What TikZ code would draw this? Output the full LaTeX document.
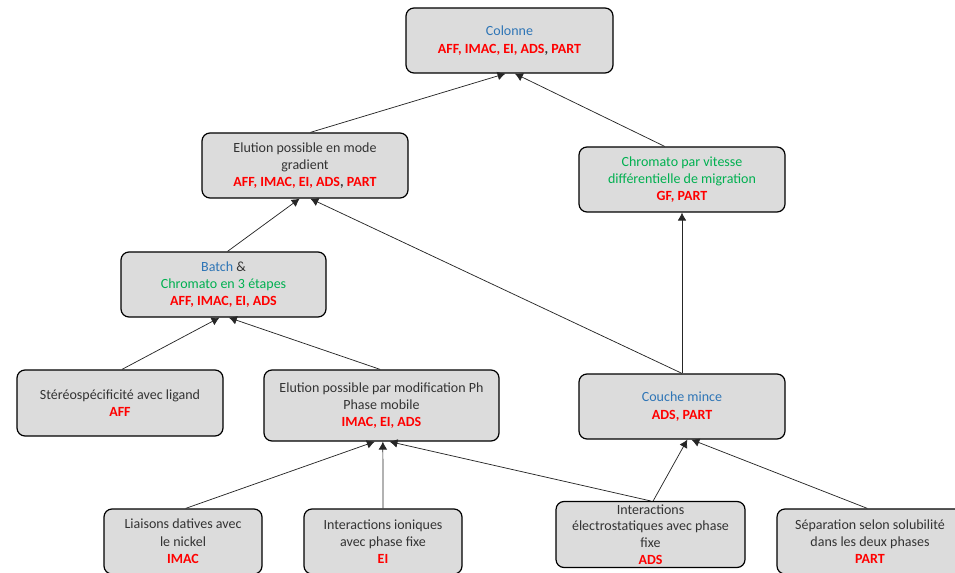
\documentclass[tikz,border=0pt]{standalone}
\usepackage{fontspec}
\setmainfont{Carlito}
\usetikzlibrary{arrows.meta}
\definecolor{bleu}{HTML}{2E75B6}
\definecolor{vert}{HTML}{00B050}
\definecolor{rouge}{HTML}{FF0000}
\definecolor{fond}{HTML}{DCDCDC}
\newcommand{\sig}[1]{\textcolor{rouge}{\bfseries #1}}
\begin{document}
\begin{tikzpicture}[x=0.75pt, y=-0.75pt, >={Latex[length=6pt,width=6.5pt]},
  box/.style={draw=black, line width=0.9pt, fill=fond, rounded corners=6pt,
    align=center, inner sep=2pt, text=black!80,
    font=\fontsize{10.5}{13}\selectfont},
  lien/.style={->, line width=0.55pt, draw=black!85}]
\useasboundingbox (0,0) rectangle (955,573);
\clip (0,0) rectangle (955,573);

% niveau haut
\node[box, minimum width=155.25pt, minimum height=48.75pt] (col) at (509.5,40.5)
  {\textcolor{bleu}{Colonne}\\ \sig{AFF, IMAC, EI, ADS{\color{black!80},} PART}};
\node[box, minimum width=154.5pt, minimum height=48.75pt] (grad) at (305,165.5)
  {Elution possible en mode\\ gradient\\ \sig{AFF, IMAC, EI, ADS{\color{black!80},} PART}};
\node[box, minimum width=154.5pt, minimum height=48.75pt] (vit) at (682,179.5)
  {\textcolor{vert}{Chromato par vitesse}\\ \textcolor{vert}{différentielle de migration}\\ \sig{GF, PART}};
\node[box, minimum width=153.75pt, minimum height=48.75pt] (batch) at (223.5,284.5)
  {\textcolor{bleu}{Batch} \&\\ \textcolor{vert}{Chromato en 3 étapes}\\ \sig{AFF, IMAC, EI, ADS}};

% niveau milieu
\node[box, minimum width=154.5pt, minimum height=49.5pt] (stereo) at (120,403)
  {Stéréospécificité avec ligand\\ \sig{AFF}};
\node[box, minimum width=176.25pt, minimum height=53.25pt] (ph) at (381.5,405.5)
  {Elution possible par modification Ph\\ Phase mobile\\ \sig{IMAC, EI, ADS}};
\node[box, minimum width=154.5pt, minimum height=48.75pt] (couche) at (682,406.5)
  {\textcolor{bleu}{Couche mince}\\ \sig{ADS, PART}};

% niveau bas
\node[box, minimum width=118.5pt, minimum height=48.75pt] (liai) at (183,541.5)
  {Liaisons datives avec\\ le nickel\\ \sig{IMAC}};
\node[box, minimum width=118.5pt, minimum height=48.75pt] (ion) at (383,541.5)
  {Interactions ioniques\\ avec phase fixe\\ \sig{EI}};
\node[box, minimum width=141.75pt, minimum height=49.5pt, inner sep=1pt,
  font=\fontsize{10.5}{12.5}\selectfont] (elec) at (650.5,534.5)
  {Interactions\\ électrostatiques avec phase\\ fixe\\ \sig{ADS}};
\node[box, minimum width=139.5pt, minimum height=48.75pt] (sep) at (870,541.5)
  {Séparation selon solubilité\\ dans les deux phases\\ \sig{PART}};

% liens
\draw[lien] ([xshift=4pt]grad.north) -- ([xshift=-3pt]col.south);
\draw[lien] ([xshift=-13pt]vit.north) -- ([xshift=4pt]col.south);
\draw[lien] ([xshift=3pt]batch.north) -- ([xshift=-4pt]grad.south);
\draw[lien] (couche.north) -- ([xshift=4pt]grad.south);
\draw[lien] (couche.north) -- (vit.south);
\draw[lien] ([xshift=1.5pt]stereo.north) -- ([xshift=-3pt]batch.south);
\draw[lien] ([xshift=-1pt]ph.north) -- ([xshift=4pt]batch.south);
\draw[lien] ([xshift=2pt]liai.north) -- ([xshift=-5pt]ph.south);
\draw[lien] (ion.north) -- ([xshift=1pt]ph.south);
\draw[lien] (elec.north) -- ([xshift=6pt]ph.south);
\draw[lien] ([xshift=2pt]elec.north) -- ([xshift=4pt]couche.south);
\draw[lien] ([xshift=-2pt]sep.north) -- ([xshift=7pt]couche.south);
\end{tikzpicture}
\end{document}
